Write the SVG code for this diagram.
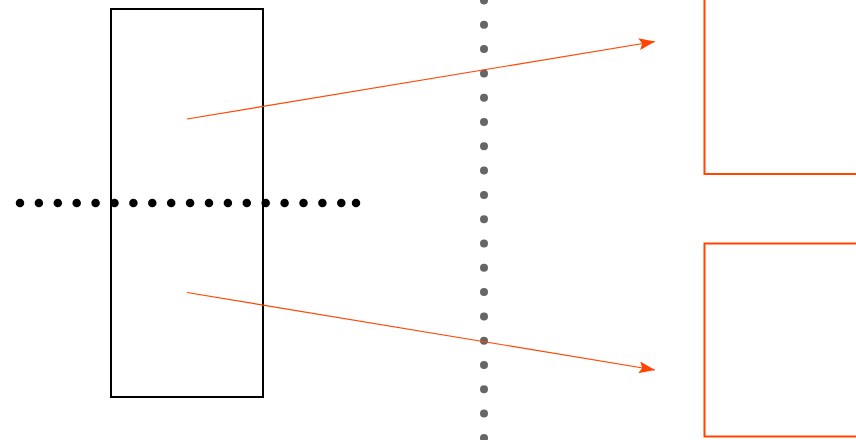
<svg xmlns="http://www.w3.org/2000/svg" width="856" height="440" viewBox="0 0 856 440">
<defs>
<style>
.frame{fill:none;stroke:#000;stroke-width:2}
.target{fill:none;stroke:#ff4500;stroke-width:2}
.arrow{fill:none;stroke:#ff4500;stroke-width:1.2}
.axisH{fill:none;stroke:#000;stroke-width:8.5;stroke-linecap:round;stroke-dasharray:0 18.9}
.axisV{fill:none;stroke:#666;stroke-width:8;stroke-linecap:round;stroke-dasharray:0 24.3}
</style>
<marker id="ah" viewBox="0 0 16 12" refX="16" refY="6" markerWidth="16" markerHeight="12" markerUnits="userSpaceOnUse" orient="auto">
<path d="M0,0 L16,6 L0,12 L3,6 Z" fill="#ff4500"/>
</marker>
</defs>
<rect width="856" height="440" fill="#fff"/>
<g id="axis-vertical">
<line class="axisV" x1="484" y1="0.5" x2="484" y2="440"/>
</g>
<g id="source">
<rect class="frame" x="111" y="9" width="152" height="388"/>
</g>
<g id="axis-horizontal">
<line class="axisH" x1="20" y1="203" x2="345" y2="203"/>
<circle cx="356" cy="203" r="4.25" fill="#000"/>
</g>
<g id="target-top">
<rect class="target" x="704.5" y="-10" width="160" height="184"/>
</g>
<g id="target-bottom">
<rect class="target" x="704.5" y="243.5" width="160" height="193"/>
</g>
<g id="connectors">
<line class="arrow" x1="187" y1="119" x2="655" y2="41.5" marker-end="url(#ah)"/>
<line class="arrow" x1="187" y1="292.5" x2="655" y2="370" marker-end="url(#ah)"/>
</g>
</svg>
